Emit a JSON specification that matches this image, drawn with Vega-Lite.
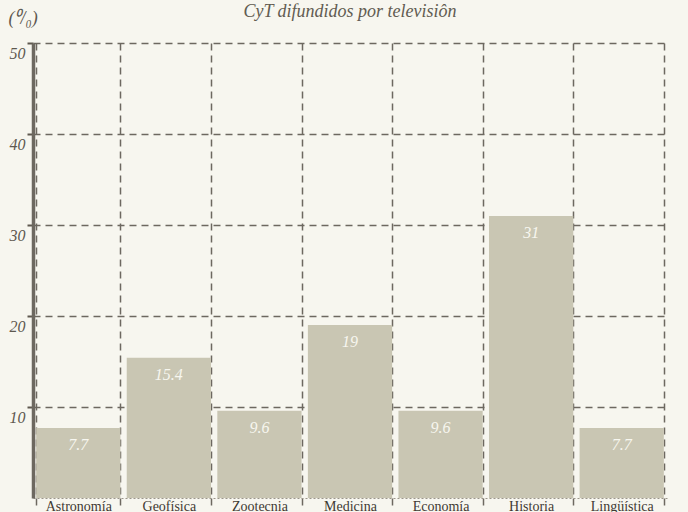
{
  "$schema": "https://vega.github.io/schema/vega-lite/v6.json",
  "width": 634,
  "height": 455,
  "autosize": {"type": "none"},
  "padding": {"left": 33, "top": 43, "right": 21, "bottom": 14},
  "background": "#f7f6ef",
  "title": {
    "text": "CyT difundidos por televisiôn",
    "font": "Liberation Serif",
    "fontStyle": "italic",
    "fontWeight": "normal",
    "fontSize": 18,
    "color": "#625c52",
    "anchor": "middle",
    "frame": "group",
    "baseline": "alphabetic",
    "offset": 0,
    "dy": 26
  },
  "config": {
    "view": {"stroke": null},
    "axis": {"labelFont": "Liberation Serif", "titleFont": "Liberation Serif"}
  },
  "data": {
    "values": [
      {"area": "Astronomía", "pct": 7.7, "label": "7.7"},
      {"area": "Geofísica", "pct": 15.4, "label": "15.4"},
      {"area": "Zootecnia", "pct": 9.6, "label": "9.6"},
      {"area": "Medicina", "pct": 19, "label": "19"},
      {"area": "Economía", "pct": 9.6, "label": "9.6"},
      {"area": "Historia", "pct": 31, "label": "31"},
      {"area": "Lingüística", "pct": 7.7, "label": "7.7"}
    ]
  },
  "encoding": {
    "x": {
      "field": "area",
      "type": "nominal",
      "sort": null,
      "scale": {"paddingInner": 0.07, "paddingOuter": 0.035},
      "axis": {
        "title": null,
        "labelAngle": 0,
        "labelFontSize": 14,
        "labelColor": "#3f3a33",
        "labelBaseline": "top",
        "labelPadding": -6,
        "tickBand": "extent",
        "ticks": true,
        "tickSize": 7,
        "tickColor": "#6d6860",
        "tickWidth": 1.5,
        "grid": true,
        "gridDash": [7, 5],
        "gridColor": "#6d6860",
        "gridWidth": 1.5,
        "domain": true,
        "domainColor": "#9a958a",
        "domainDash": [2, 2],
        "domainWidth": 1
      }
    },
    "y": {
      "field": "pct",
      "type": "quantitative",
      "scale": {"domain": [0, 50], "nice": false},
      "axis": {
        "values": [10, 20, 30, 40, 50],
        "title": "(⁰/₀)",
        "titleAngle": 0,
        "titleX": -25,
        "titleY": -20,
        "titleAlign": "left",
        "titleBaseline": "alphabetic",
        "titleFontSize": 18,
        "titleFontStyle": "italic",
        "titleFontWeight": "normal",
        "titleColor": "#5e584f",
        "labelFontSize": 16,
        "labelFontStyle": "italic",
        "labelColor": "#5e584f",
        "labelBaseline": "top",
        "labelAlign": "right",
        "labelPadding": 2,
        "labelOffset": 2,
        "ticks": true,
        "tickSize": 6,
        "tickColor": "#5e584f",
        "tickWidth": 2,
        "grid": true,
        "gridDash": [7, 5],
        "gridColor": "#6d6860",
        "gridWidth": 1.5,
        "domain": true,
        "domainColor": "#6d6860",
        "domainWidth": 3.5
      }
    }
  },
  "layer": [
    {"mark": {"type": "bar", "color": "#c9c6b3"}},
    {
      "mark": {
        "type": "text",
        "baseline": "top",
        "dy": 9,
        "color": "#f7f6ef",
        "font": "Liberation Serif",
        "fontStyle": "italic",
        "fontSize": 16
      },
      "encoding": {"text": {"field": "label"}}
    }
  ]
}
